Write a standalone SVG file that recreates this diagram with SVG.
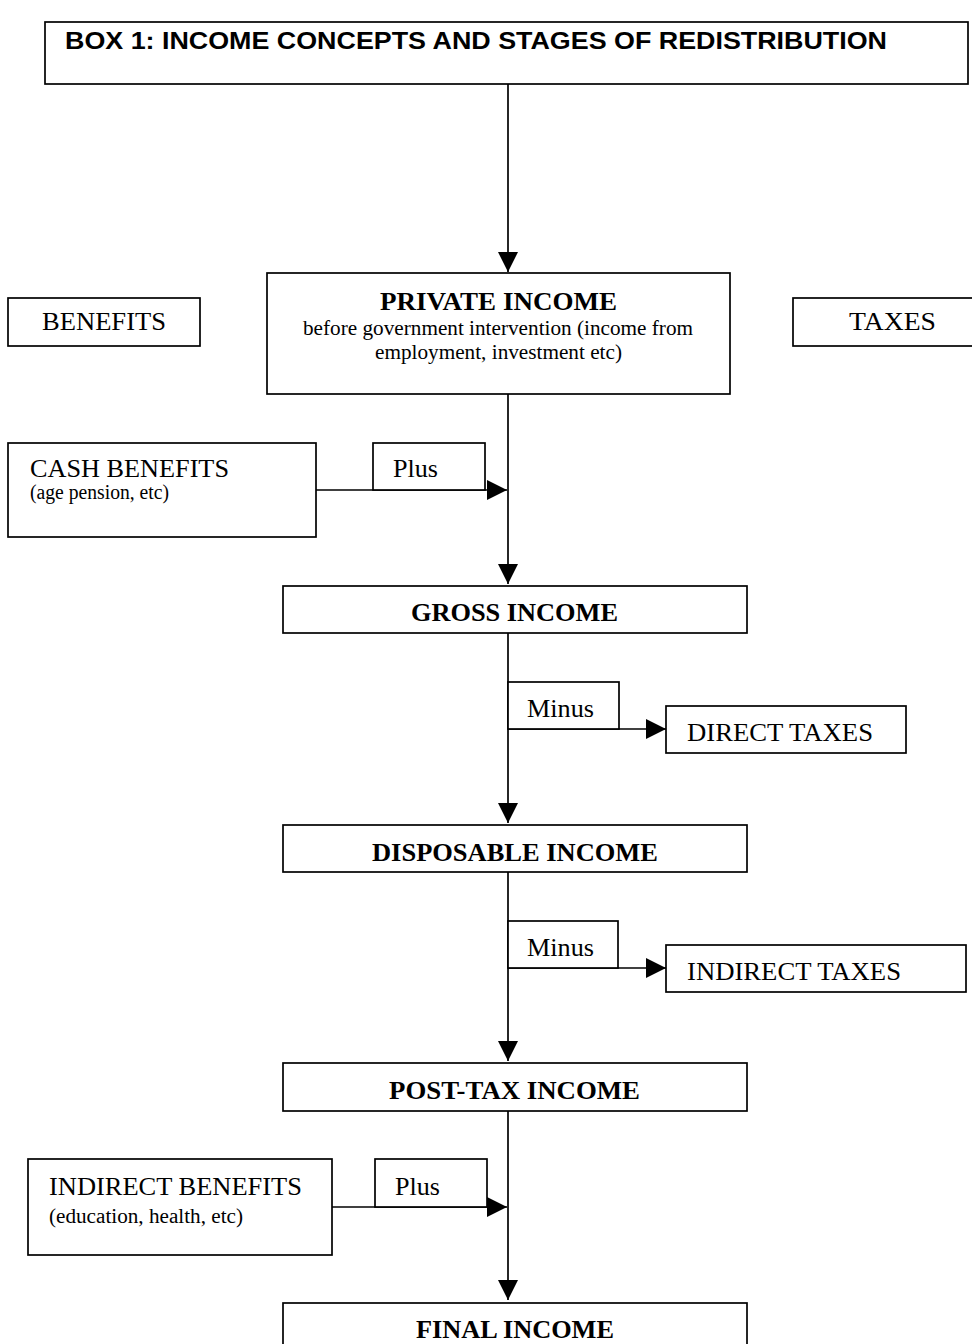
<svg xmlns="http://www.w3.org/2000/svg" width="972" height="1344" viewBox="0 0 972 1344">
<defs>
<marker id="ah" viewBox="0 0 20 20" refX="20" refY="10" markerWidth="20" markerHeight="20" markerUnits="userSpaceOnUse" orient="auto">
<path d="M0,0 L20,10 L0,20 z" fill="#000"/>
</marker>
<style>
.box{fill:#fff;stroke:#000;stroke-width:1.7}
.con{fill:none;stroke:#000;stroke-width:1.7}
.t{font-family:"Liberation Serif","Times New Roman",serif;fill:#000}
.b{font-weight:bold}
.l{font-size:26px}
.s{font-size:20px}
.h{font-family:"Liberation Sans",Arial,sans-serif;font-weight:bold;font-size:24px;fill:#000}
</style>
</defs>
<rect width="972" height="1344" fill="#fff"/>
<g id="connectors">
<line class="con" x1="508" y1="84" x2="508" y2="272" marker-end="url(#ah)"/>
<line class="con" x1="508" y1="394" x2="508" y2="584" marker-end="url(#ah)"/>
<line class="con" x1="316" y1="490" x2="507" y2="490" marker-end="url(#ah)"/>
<line class="con" x1="508" y1="633" x2="508" y2="823" marker-end="url(#ah)"/>
<line class="con" x1="508" y1="729" x2="666" y2="729" marker-end="url(#ah)"/>
<line class="con" x1="508" y1="872" x2="508" y2="1061" marker-end="url(#ah)"/>
<line class="con" x1="508" y1="968" x2="666" y2="968" marker-end="url(#ah)"/>
<line class="con" x1="508" y1="1111" x2="508" y2="1300" marker-end="url(#ah)"/>
<line class="con" x1="332" y1="1207" x2="507" y2="1207" marker-end="url(#ah)"/>
</g>
<g id="title">
<rect class="box" x="45" y="22" width="923" height="62"/>
<text class="h" x="65" y="49" textLength="822" lengthAdjust="spacingAndGlyphs">BOX 1:  INCOME CONCEPTS AND STAGES OF REDISTRIBUTION</text>
</g>
<g id="benefits">
<rect class="box" x="8" y="298" width="192" height="48"/>
<text class="t l" x="42" y="330" textLength="124" lengthAdjust="spacingAndGlyphs">BENEFITS</text>
</g>
<g id="taxes">
<rect class="box" x="793" y="298" width="185" height="48"/>
<text class="t l" x="849" y="330" textLength="87" lengthAdjust="spacingAndGlyphs">TAXES</text>
</g>
<g id="private-income">
<rect class="box" x="267" y="273" width="463" height="121"/>
<text class="t l b" x="380" y="310" textLength="237" lengthAdjust="spacingAndGlyphs">PRIVATE INCOME</text>
<text class="t s" x="303" y="335" textLength="390" lengthAdjust="spacingAndGlyphs">before government intervention (income from</text>
<text class="t s" x="375" y="359" textLength="247" lengthAdjust="spacingAndGlyphs">employment, investment etc)</text>
</g>
<g id="cash-benefits">
<rect class="box" x="8" y="443" width="308" height="94"/>
<text class="t l" x="30" y="477" textLength="199" lengthAdjust="spacingAndGlyphs">CASH BENEFITS</text>
<text class="t s" x="30" y="499" textLength="139" lengthAdjust="spacingAndGlyphs">(age pension, etc)</text>
</g>
<g id="plus-1">
<rect class="box" x="373" y="443" width="112" height="47"/>
<text class="t l" x="393" y="477" textLength="45" lengthAdjust="spacingAndGlyphs">Plus</text>
</g>
<g id="gross-income">
<rect class="box" x="283" y="586" width="464" height="47"/>
<text class="t l b" x="411" y="621" textLength="207" lengthAdjust="spacingAndGlyphs">GROSS INCOME</text>
</g>
<g id="minus-1">
<rect class="box" x="508" y="682" width="111" height="47"/>
<text class="t l" x="527" y="717" textLength="67" lengthAdjust="spacingAndGlyphs">Minus</text>
</g>
<g id="direct-taxes">
<rect class="box" x="666" y="706" width="240" height="47"/>
<text class="t l" x="687" y="741" textLength="186" lengthAdjust="spacingAndGlyphs">DIRECT TAXES</text>
</g>
<g id="disposable-income">
<rect class="box" x="283" y="825" width="464" height="47"/>
<text class="t l b" x="372" y="861" textLength="286" lengthAdjust="spacingAndGlyphs">DISPOSABLE INCOME</text>
</g>
<g id="minus-2">
<rect class="box" x="508" y="921" width="110" height="47"/>
<text class="t l" x="527" y="956" textLength="67" lengthAdjust="spacingAndGlyphs">Minus</text>
</g>
<g id="indirect-taxes">
<rect class="box" x="666" y="945" width="300" height="47"/>
<text class="t l" x="687" y="980" textLength="214" lengthAdjust="spacingAndGlyphs">INDIRECT TAXES</text>
</g>
<g id="post-tax-income">
<rect class="box" x="283" y="1063" width="464" height="48"/>
<text class="t l b" x="389" y="1099" textLength="251" lengthAdjust="spacingAndGlyphs">POST-TAX INCOME</text>
</g>
<g id="indirect-benefits">
<rect class="box" x="28" y="1159" width="304" height="96"/>
<text class="t l" x="49" y="1195" textLength="253" lengthAdjust="spacingAndGlyphs">INDIRECT BENEFITS</text>
<text class="t s" x="49" y="1223" textLength="194" lengthAdjust="spacingAndGlyphs">(education, health, etc)</text>
</g>
<g id="plus-2">
<rect class="box" x="375" y="1159" width="112" height="48"/>
<text class="t l" x="395" y="1195" textLength="45" lengthAdjust="spacingAndGlyphs">Plus</text>
</g>
<g id="final-income">
<rect class="box" x="283" y="1303" width="464" height="60"/>
<text class="t l b" x="416" y="1338" textLength="198" lengthAdjust="spacingAndGlyphs">FINAL INCOME</text>
</g>
</svg>
